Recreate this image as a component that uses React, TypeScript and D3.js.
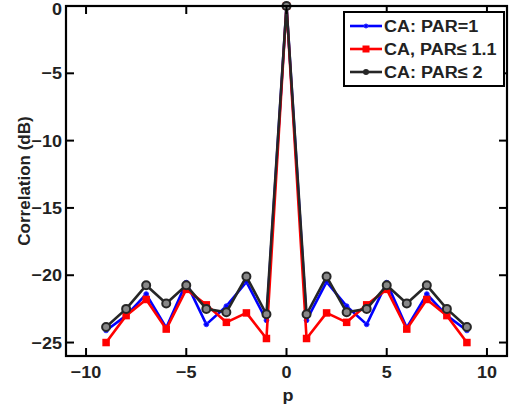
import React from "react";
import * as d3 from "d3";

// Lag index p
const lags = [-9, -8, -7, -6, -5, -4, -3, -2, -1, 0, 1, 2, 3, 4, 5, 6, 7, 8, 9];

// Correlation (dB) per lag for each code
const par1 = [-24.1, -23.0, -21.4, -23.9, -20.55, -23.65, -22.3, -20.5, -23.35, 0, -23.35, -20.5, -22.3, -23.65, -20.55, -23.9, -21.4, -23.0, -24.1];
const par11 = [-25.0, -23.0, -21.8, -24.0, -21.05, -22.2, -23.5, -22.8, -24.7, 0, -24.7, -22.8, -23.5, -22.2, -21.05, -24.0, -21.8, -23.0, -25.0];
const par2 = [-23.85, -22.5, -20.75, -22.1, -20.75, -22.5, -22.75, -20.1, -22.9, 0, -22.9, -20.1, -22.75, -22.5, -20.75, -22.1, -20.75, -22.5, -23.85];

const xTicks = [-10, -5, 0, 5, 10];
const yTicks = [0, -5, -10, -15, -20, -25];
const legendLabels = ["CA: PAR=1", "CA, PAR\u2264 1.1", "CA: PAR\u2264 2"];

const W = 515;
const H = 412;
const left = 66;
const right = 507;
const top = 6;
const bottom = 356;
const font = "'Liberation Sans', Arial, sans-serif";
const ink = "#222";

// Bold label with a slight horizontal stretch
function Label(props: { x: number; y: number; anchor?: string; dy?: string; children: any }) {
  const { x, y, anchor = "start", dy, children } = props;
  return (
    <text
      transform={`translate(${x}, ${y}) scale(1.06, 1)`}
      dy={dy}
      textAnchor={anchor}
      fontFamily={font}
      fontWeight="bold"
      fontSize={17}
      fill={ink}
    >
      {children}
    </text>
  );
}

export default function App() {
  const x = d3.scaleLinear().domain([-11, 11]).range([left, right]);
  const y = d3.scaleLinear().domain([-26, 0]).range([bottom, top]);

  const line = d3
    .line<number>()
    .x((_, i) => x(lags[i]))
    .y((d) => y(d));

  const series = [
    { name: legendLabels[0], values: par1, color: "#0000ff", marker: "dot" },
    { name: legendLabels[1], values: par11, color: "#ff0000", marker: "square" },
    { name: legendLabels[2], values: par2, color: "#262626", marker: "circle" },
  ];

  const marker = (kind: string, color: string, cx: number, cy: number, key: any, legend = false) => {
    if (kind === "square") {
      const s = legend ? 7 : 7.5;
      return <rect key={key} x={cx - s / 2} y={cy - s / 2} width={s} height={s} fill={color} />;
    }
    if (kind === "circle") {
      return legend ? (
        <circle key={key} cx={cx} cy={cy} r={3} fill={color} />
      ) : (
        <circle key={key} cx={cx} cy={cy} r={4} fill="#888" stroke={color} strokeWidth={2} />
      );
    }
    return <circle key={key} cx={cx} cy={cy} r={legend ? 2 : 2.4} fill={color} stroke="#3030ff" strokeWidth={1} />;
  };

  const tickLen = 8;
  const fmt = (t: number) => (t < 0 ? "\u2212" + Math.abs(t) : String(t));

  return (
    <svg width={W} height={H} style={{ position: "absolute", left: 0, top: 0, background: "#fff" }}>
      <rect x={0} y={0} width={W} height={H} fill="#fff" />

      {/* series */}
      {series.map((s, si) => (
        <g key={si}>
          <path d={line(s.values) || ""} fill="none" stroke={s.color} strokeWidth={2.6} strokeLinejoin="round" />
          {s.values.map((v, i) => marker(s.marker, s.color, x(lags[i]), y(v), i))}
        </g>
      ))}

      {/* frame */}
      <rect x={left} y={top} width={right - left} height={bottom - top} fill="none" stroke="#000" strokeWidth={2.2} />

      {/* x ticks, inward on bottom and top */}
      {xTicks.map((t) => (
        <g key={"x" + t}>
          <line x1={x(t)} x2={x(t)} y1={bottom} y2={bottom - tickLen} stroke="#000" strokeWidth={2} />
          <line x1={x(t)} x2={x(t)} y1={top} y2={top + tickLen} stroke="#000" strokeWidth={2} />
          <Label x={x(t)} y={378} anchor="middle">
            {fmt(t)}
          </Label>
        </g>
      ))}

      {/* y ticks, inward on left and right */}
      {yTicks.map((t) => (
        <g key={"y" + t}>
          <line x1={left} x2={left + tickLen} y1={y(t)} y2={y(t)} stroke="#000" strokeWidth={2} />
          <line x1={right} x2={right - tickLen} y1={y(t)} y2={y(t)} stroke="#000" strokeWidth={2} />
          <Label x={62} y={Math.max(y(t), 8.5)} anchor="end" dy="0.36em">
            {fmt(t)}
          </Label>
        </g>
      ))}

      {/* axis titles */}
      <Label x={288} y={401} anchor="middle">
        p
      </Label>
      <text
        transform={`translate(30, ${(top + bottom) / 2}) rotate(-90)`}
        textAnchor="middle"
        fontFamily={font}
        fontWeight="bold"
        fontSize={17}
        fill={ink}
      >
        Correlation (dB)
      </text>

      {/* legend */}
      <g>
        <rect x={344} y={12} width={160} height={74} fill="#fff" stroke="#000" strokeWidth={2} />
        {series.map((s, i) => {
          const cy = 26 + i * 23;
          return (
            <g key={"l" + i}>
              <line x1={350} x2={382} y1={cy} y2={cy} stroke={s.color} strokeWidth={2.6} />
              {marker(s.marker, s.color, 366, cy, "m", true)}
              <Label x={384} y={cy} dy="0.36em">
                {s.name}
              </Label>
            </g>
          );
        })}
      </g>
    </svg>
  );
}
